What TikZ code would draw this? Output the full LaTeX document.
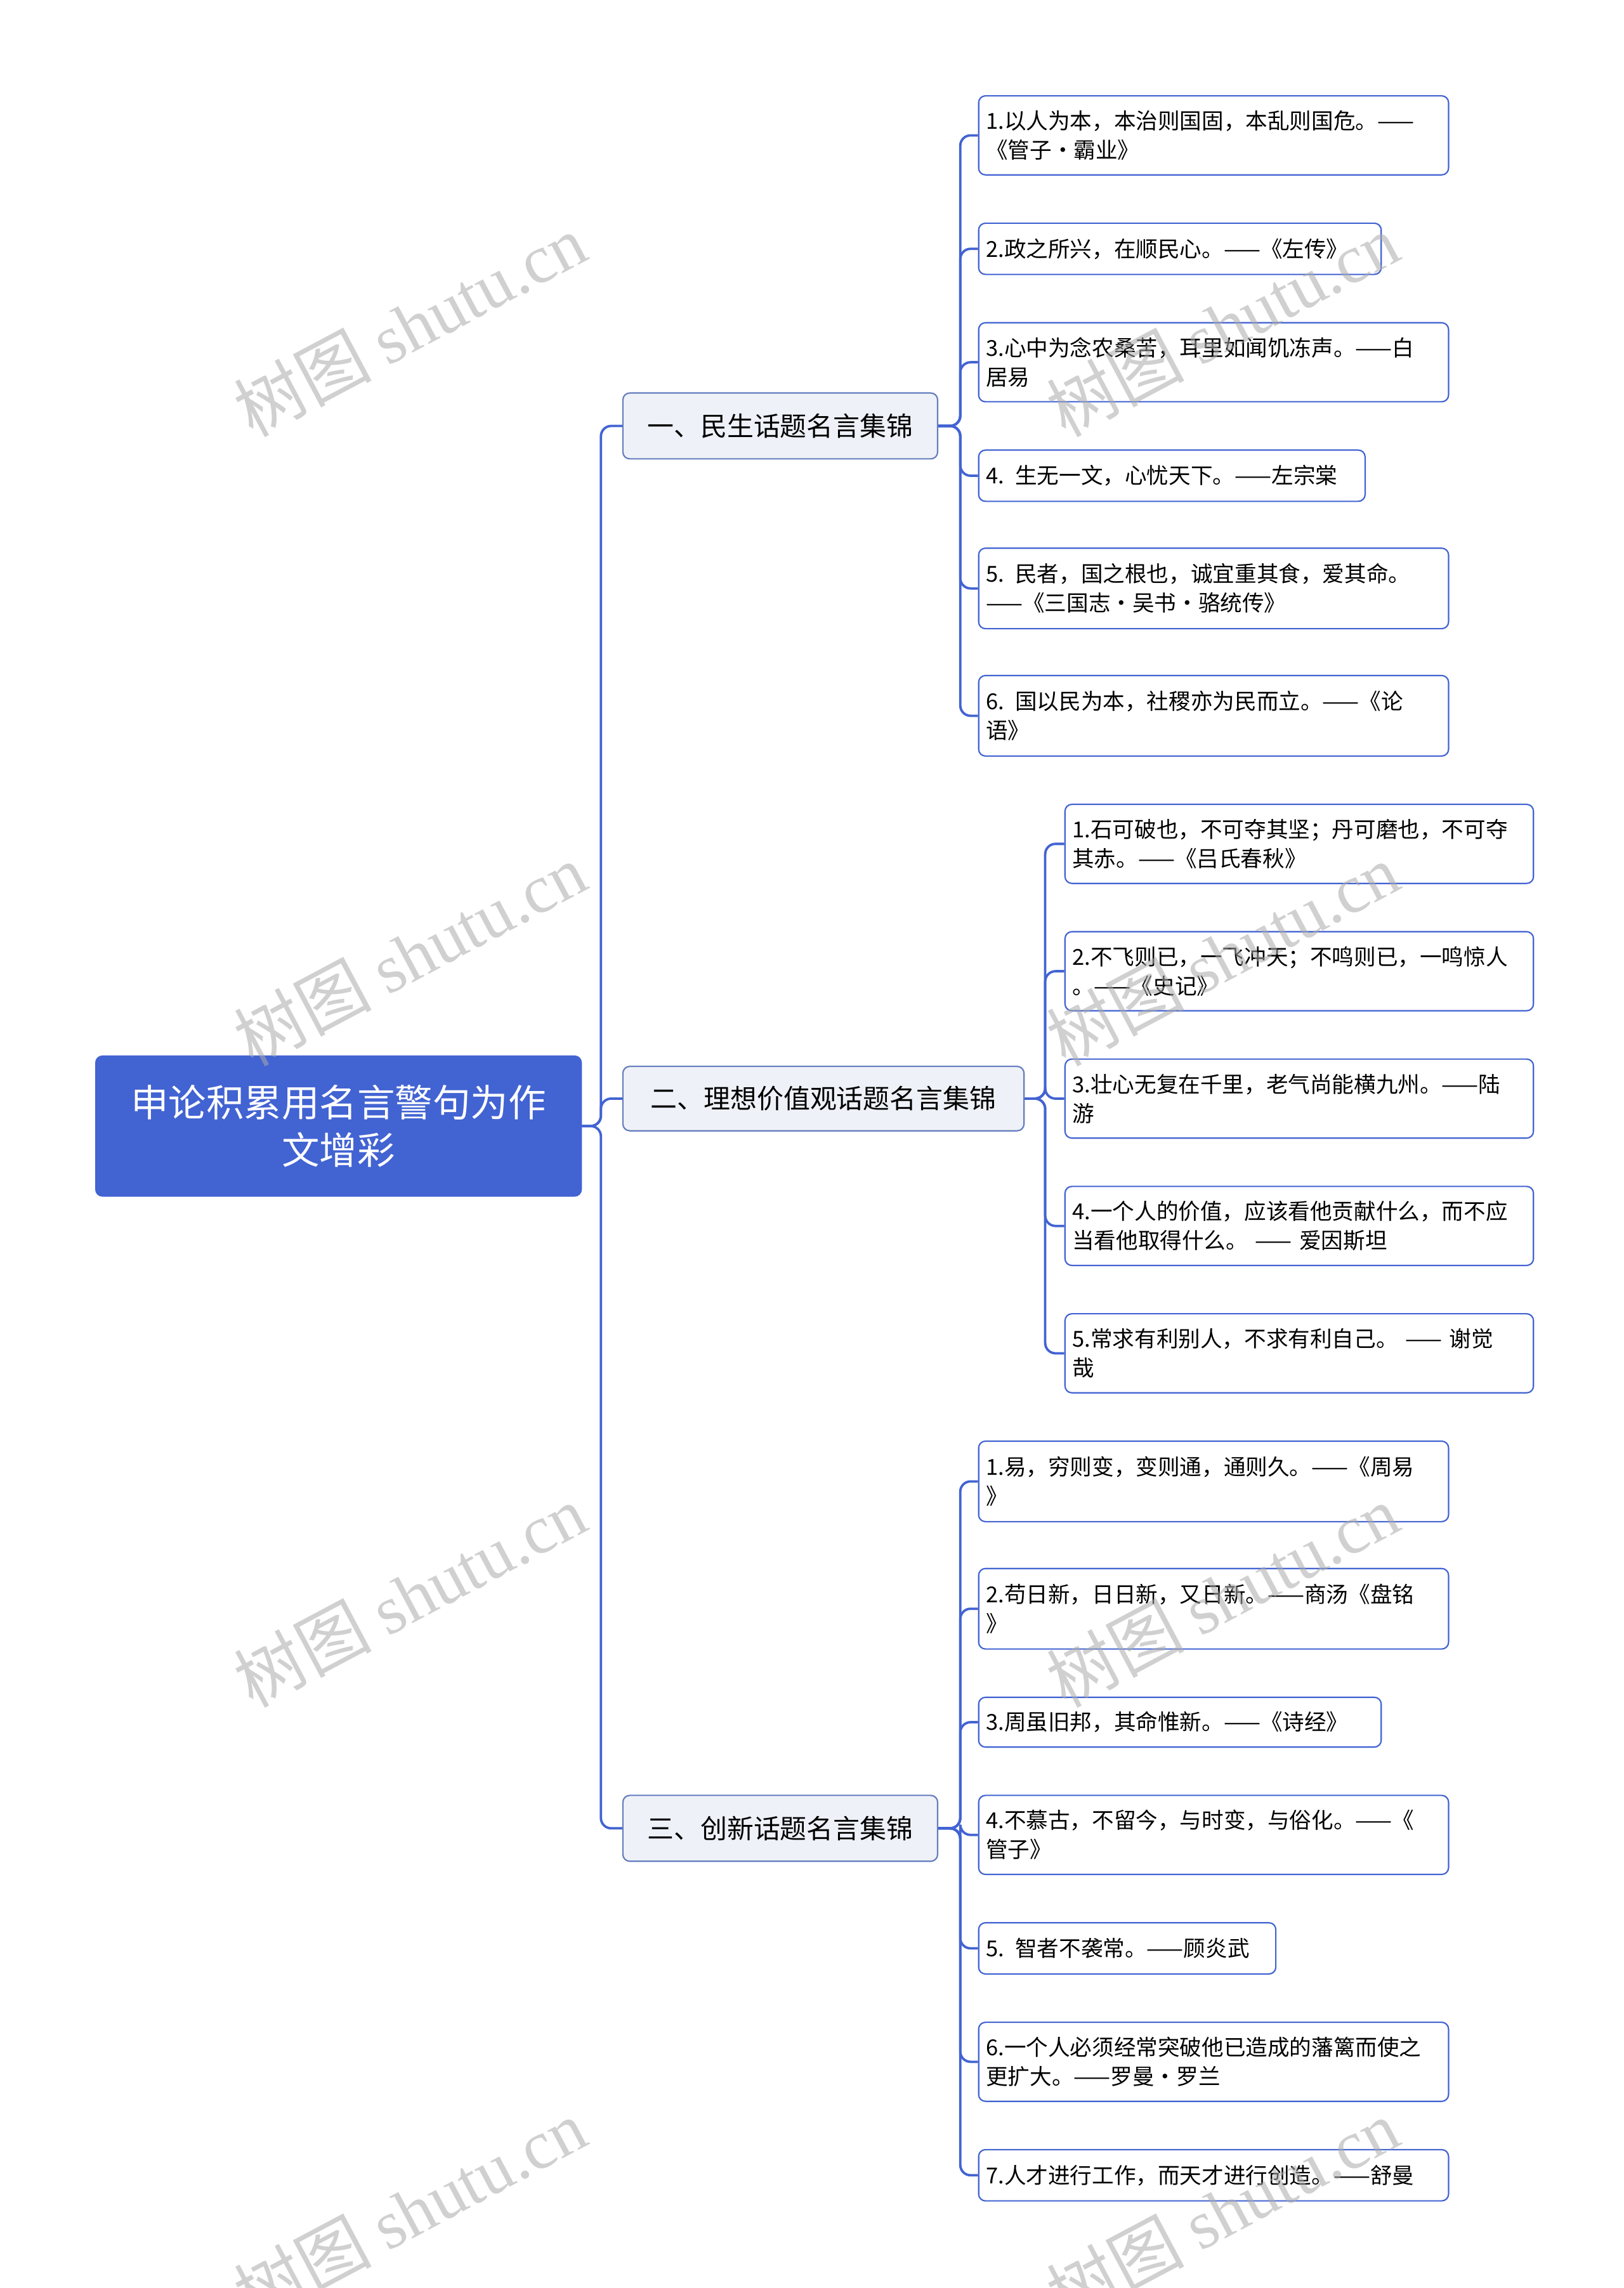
\documentclass[tikz,border=0pt]{standalone}
\usepackage{fontspec}
\setmainfont{Noto Sans CJK SC}
\newfontfamily\wmserif{Liberation Serif}
\definecolor{mainblue}{RGB}{66,99,210}
\definecolor{lvfill}{RGB}{238,241,247}
\definecolor{lvline}{RGB}{100,125,190}
\definecolor{wm}{RGB}{170,170,170}
\begin{document}
\begin{tikzpicture}[x=0.03cm,y=-0.03cm,
  rootbox/.style={draw=mainblue,fill=mainblue,rounded corners=4pt,text=white,font=\fontsize{22}{28}\selectfont,align=center,anchor=north west,inner sep=0pt},
  lvbox/.style={draw=lvline,fill=lvfill,rounded corners=4pt,line width=0.8pt,font=\fontsize{15.5}{19}\selectfont,anchor=north west,inner sep=0pt},
  leafbox/.style={draw=mainblue,fill=white,rounded corners=4pt,line width=0.8pt,font=\fontsize{12.8}{17}\selectfont,align=left,anchor=north west,inner sep=0pt,inner xsep=4pt},
  lw/.style={minimum width=#1*0.03cm},
  wA/.style={lw=321,text width=9.33cm},
  wB/.style={lw=275,text width=7.95cm},
  wC/.style={lw=264,text width=7.62cm},
  wD/.style={lw=320,text width=9.3cm},
  wE/.style={lw=203,text width=5.79cm},
  conn/.style={draw=mainblue,line width=1.4pt,rounded corners=6pt},
  wmk/.style={text=wm,text opacity=0.55,rotate=28,font=\fontsize{40}{46}\selectfont}]
\useasboundingbox (0,0) rectangle (1109,1563);
% root
\node[rootbox,minimum width=332*0.03cm,minimum height=96*0.03cm] (root) at (65,721) {申论积累用名言警句为作\\文增彩};
% level 1
\node[lvbox,minimum width=215*0.03cm,minimum height=45*0.03cm] (g1) at (425,268) {一、民生话题名言集锦};
\node[lvbox,minimum width=274*0.03cm,minimum height=44*0.03cm] (g2) at (425,728) {二、理想价值观话题名言集锦};
\node[lvbox,minimum width=215*0.03cm,minimum height=45*0.03cm] (g3) at (425,1226) {三、创新话题名言集锦};
% group 1 leaves
\node[leafbox,wA,minimum height=54*0.03cm] (a1) at (668,65) {1.以人为本，本治则国固，本乱则国危。——\\《管子·霸业》};
\node[leafbox,wB,minimum height=35*0.03cm] (a2) at (668,152) {2.政之所兴，在顺民心。——《左传》};
\node[leafbox,wA,minimum height=54*0.03cm] (a3) at (668,220) {3.心中为念农桑苦，耳里如闻饥冻声。——白\\居易};
\node[leafbox,wC,minimum height=35*0.03cm] (a4) at (668,307) {4. 生无一文，心忧天下。——左宗棠};
\node[leafbox,wA,minimum height=55*0.03cm] (a5) at (668,374) {5. 民者，国之根也，诚宜重其食，爱其命。\\——《三国志·吴书·骆统传》};
\node[leafbox,wA,minimum height=55*0.03cm] (a6) at (668,461) {6. 国以民为本，社稷亦为民而立。——《论\\语》};
% group 2 leaves
\node[leafbox,wD,minimum height=54*0.03cm] (b1) at (727,549) {1.石可破也，不可夺其坚；丹可磨也，不可夺\\其赤。——《吕氏春秋》};
\node[leafbox,wD,minimum height=54*0.03cm] (b2) at (727,636) {2.不飞则已，一飞冲天；不鸣则已，一鸣惊人\\。——《史记》};
\node[leafbox,wD,minimum height=54*0.03cm] (b3) at (727,723) {3.壮心无复在千里，老气尚能横九州。——陆\\游};
\node[leafbox,wD,minimum height=54*0.03cm] (b4) at (727,810) {4.一个人的价值，应该看他贡献什么，而不应\\当看他取得什么。 —— 爱因斯坦};
\node[leafbox,wD,minimum height=54*0.03cm] (b5) at (727,897) {5.常求有利别人，不求有利自己。 —— 谢觉\\哉};
% group 3 leaves
\node[leafbox,wA,minimum height=55*0.03cm] (c1) at (668,984) {1.易，穷则变，变则通，通则久。——《周易\\》};
\node[leafbox,wA,minimum height=55*0.03cm] (c2) at (668,1071) {2.苟日新，日日新，又日新。——商汤《盘铭\\》};
\node[leafbox,wB,minimum height=34*0.03cm] (c3) at (668,1159) {3.周虽旧邦，其命惟新。——《诗经》};
\node[leafbox,wA,minimum height=54*0.03cm] (c4) at (668,1226) {4.不慕古，不留今，与时变，与俗化。——《\\管子》};
\node[leafbox,wE,minimum height=35*0.03cm] (c5) at (668,1313) {5. 智者不袭常。——顾炎武};
\node[leafbox,wA,minimum height=54*0.03cm] (c6) at (668,1381) {6.一个人必须经常突破他已造成的藩篱而使之\\更扩大。——罗曼·罗兰};
\node[leafbox,wA,minimum height=35*0.03cm] (c7) at (668,1468) {7.人才进行工作，而天才进行创造。——舒曼};
% connectors
\foreach \g in {g1,g2,g3} \draw[conn] (root.east) -- ++(13,0) |- (\g.west);
\foreach \l in {a1,a2,a3,a4,a5,a6} \draw[conn] (g1.east) -- ++(15,0) |- (\l.west);
\foreach \l in {b1,b2,b3,b4,b5} \draw[conn] (g2.east) -- ++(14,0) |- (\l.west);
\foreach \l in {c1,c2,c3,c4,c5,c6,c7} \draw[conn] (g3.east) -- ++(15,0) |- (\l.west);
% watermarks
\foreach \x/\y in {280/222,280/652,280/1090,280/1510,835/222,835/652,835/1090,835/1510}
  \node[wmk] at (\x,\y) {树图 {\wmserif shutu.cn}};
\end{tikzpicture}
\end{document}
